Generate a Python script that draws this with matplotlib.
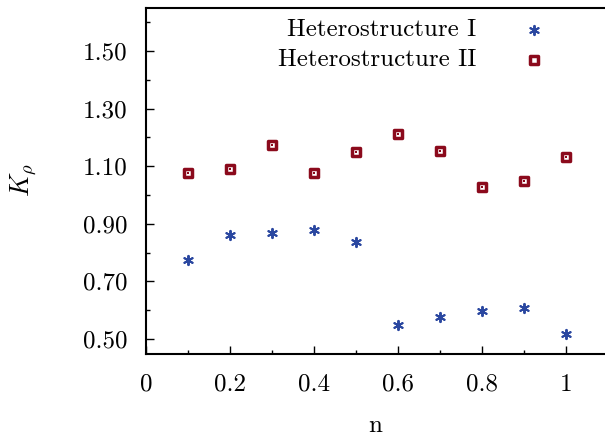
import matplotlib
matplotlib.use("Agg")
import matplotlib.pyplot as plt
from matplotlib.ticker import MultipleLocator

n_vals = [0.1, 0.2, 0.3, 0.4, 0.5, 0.6, 0.7, 0.8, 0.9, 1.0]
k_het1 = [0.775, 0.862, 0.868, 0.878, 0.837, 0.547, 0.577, 0.598, 0.609, 0.518]
k_het2 = [1.076, 1.091, 1.174, 1.077, 1.149, 1.211, 1.152, 1.029, 1.049, 1.131]
labels = ["Heterostructure I", "Heterostructure II"]
ytick_vals = [0.50, 0.70, 0.90, 1.10, 1.30, 1.50]
xtick_vals = [0, 0.2, 0.4, 0.6, 0.8, 1]

plt.rcParams['font.family'] = ['cmr10', 'DejaVu Serif']
plt.rcParams['mathtext.fontset'] = 'cm'
plt.rcParams['axes.formatter.use_mathtext'] = True

blue = '#2a47a0'
red = '#8b0a1c'
FS = 18

fig = plt.figure(figsize=(6.05, 4.37), dpi=100)
W, H = 605, 437
ax = fig.add_axes([146 / W, 1 - 354 / H, (605 - 146) / W, (354 - 8) / H])

ax.scatter(n_vals, k_het1, marker=(6, 2, 0), s=45, color=blue, linewidths=1.4, label=labels[0], zorder=3)
ax.scatter(n_vals, k_het2, marker='s', s=38, facecolors='white', edgecolors=red, linewidths=2.5, label=labels[1], zorder=3)
ax.scatter(n_vals, k_het2, marker='s', s=2.5, color=red, linewidths=0, zorder=4)

ax.set_xlim(0, (605 - 146) / 420)
ax.set_ylim(0.448, 1.649)
ax.set_xticks(xtick_vals)
ax.set_xticklabels(['0', '0.2', '0.4', '0.6', '0.8', '1'])
ax.set_yticks(ytick_vals)
ax.set_yticklabels(['%.2f' % v for v in ytick_vals])
ax.xaxis.set_minor_locator(MultipleLocator(0.1))
ax.yaxis.set_minor_locator(MultipleLocator(0.1))
ax.tick_params(which='both', direction='in', top=False, right=False, labelsize=FS)
ax.tick_params(which='major', length=6, width=1.0)
ax.tick_params(which='minor', length=3, width=1.0)
ax.tick_params(axis='x', pad=14)
ax.tick_params(axis='y', pad=13.5)
for s in ['left', 'bottom', 'top']:
    ax.spines[s].set_linewidth(1.5)
ax.spines['right'].set_visible(False)

ax.set_xlabel('n', fontsize=FS)
ax.set_ylabel(r'$K_\rho$', fontsize=FS + 1)
ax.xaxis.set_label_coords((375 - 146) / (605 - 146), -(61) / (354 - 8))
ax.yaxis.set_label_coords((38 - 146) / (605 - 146), 0.503)

leg = ax.legend(loc='upper right', bbox_to_anchor=((569 - 146) / 459, 1.0 - 1 / 346), borderaxespad=0,
                frameon=False, markerfirst=False, fontsize=FS, handletextpad=1.3,
                labelspacing=0.3, scatterpoints=1)

fig.savefig('out.png', dpi=100)
